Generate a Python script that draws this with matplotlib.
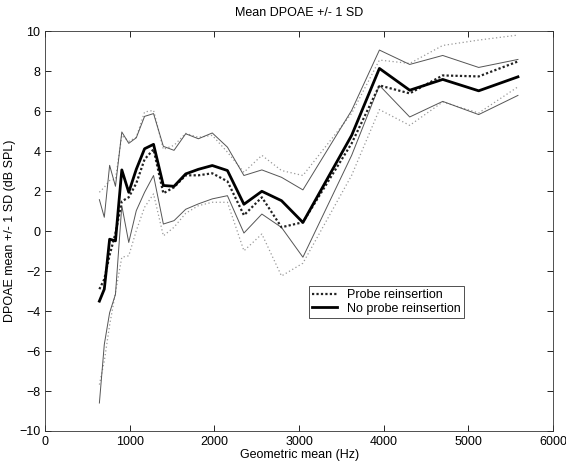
import matplotlib.pyplot as plt
import numpy as np

plt.rcParams['font.family'] = ['Liberation Sans', 'DejaVu Sans']

# geometric mean frequencies (Hz)
freqs = [640, 698, 761, 830, 905, 987, 1076, 1174, 1280, 1396, 1522, 1660, 1810,
         1974, 2153, 2348, 2560, 2792, 3045, 3621, 3949, 4307, 4697, 5122, 5586]

# no probe reinsertion: mean and +/- 1 SD
noprobe_mean = [-3.5, -2.9, -0.4, -0.48, 3.07, 1.95, 3.1, 4.13, 4.35, 2.29, 2.25, 2.87, 3.1,
                3.29, 3.04, 1.35, 2.0, 1.53, 0.44, 4.8, 8.15, 7.06, 7.6, 7.03, 7.73]
noprobe_hi = [1.58, 0.7, 3.3, 2.25, 4.97, 4.4, 4.68, 5.75, 5.89, 4.25, 4.05, 4.88, 4.63,
              4.92, 4.21, 2.79, 3.07, 2.7, 2.07, 6.05, 9.07, 8.35, 8.8, 8.2, 8.6]
noprobe_lo = [-8.6, -5.67, -4.08, -3.16, 1.28, -0.56, 1.03, 1.95, 2.79, 0.36, 0.53, 1.1, 1.37,
              1.62, 1.78, -0.09, 0.86, 0.19, -1.3, 3.8, 7.3, 5.72, 6.5, 5.84, 6.8]

# probe reinsertion: mean and +/- 1 SD
probe_mean = [-2.9, -2.4, -1.2, -0.1, 1.5, 1.7, 2.4, 3.6, 4.1, 1.9, 2.2, 2.8, 2.8,
              2.9, 2.5, 0.8, 1.7, 0.2, 0.45, 4.4, 7.3, 6.9, 7.8, 7.75, 8.5]
probe_hi = [1.95, 2.2, 2.54, 2.6, 4.8, 4.5, 4.7, 5.97, 6.05, 4.1, 4.3, 4.9, 4.7,
            4.8, 3.96, 2.95, 3.8, 3.04, 2.79, 5.9, 8.57, 8.4, 9.3, 9.57, 9.82]
probe_lo = [-7.68, -6.5, -4.7, -3.07, -1.3, -1.23, 0.03, 1.2, 1.87, -0.23, 0.2, 0.9, 1.28,
            1.45, 1.45, -0.98, -0.14, -2.24, -1.6, 2.8, 6.09, 5.3, 6.47, 5.92, 7.23]

fig = plt.figure(figsize=(5.66, 4.61), dpi=100)
ax = fig.add_axes([0.0799, 0.0651, 0.8971, 0.8666])

ax.plot(freqs, probe_hi, linestyle=(0, (1, 2)), linewidth=0.9, color='#999999')
ax.plot(freqs, probe_lo, linestyle=(0, (1, 2)), linewidth=0.9, color='#999999')
ax.plot(freqs, noprobe_hi, linestyle='-', linewidth=0.7, color='#555555')
ax.plot(freqs, noprobe_lo, linestyle='-', linewidth=0.7, color='#555555')
l1, = ax.plot(freqs, probe_mean, linestyle=(0, (1, 1)), linewidth=1.6, color='#222222')
l2, = ax.plot(freqs, noprobe_mean, linestyle='-', linewidth=2, color='black')

ax.set_xlim(0, 6000)
ax.set_ylim(-10, 10)
ax.set_xticks(np.arange(0, 6001, 1000))
ax.set_yticks(np.arange(-10, 11, 2))
ax.tick_params(direction='in', top=True, right=True, labelsize=9, length=4, width=0.6)
for s in ax.spines.values():
    s.set_linewidth(0.6)
    s.set_color('#333333')

ax.set_title('Mean DPOAE +/- 1 SD', fontsize=9, pad=11)
ax.set_xlabel('Geometric mean (Hz)', fontsize=9, labelpad=1)
ax.set_ylabel('DPOAE mean +/- 1 SD (dB SPL)', fontsize=9, labelpad=2)

leg = ax.legend([l1, l2], ['Probe reinsertion', 'No probe reinsertion'],
                loc='upper left', bbox_to_anchor=(0.519, 0.362), fontsize=9,
                fancybox=False, framealpha=1, edgecolor='#333333',
                borderpad=0.25, labelspacing=0.1, handlelength=2.0, handletextpad=0.8,
                borderaxespad=0)
leg.get_frame().set_linewidth(0.6)

plt.savefig('out.png', dpi=100)
